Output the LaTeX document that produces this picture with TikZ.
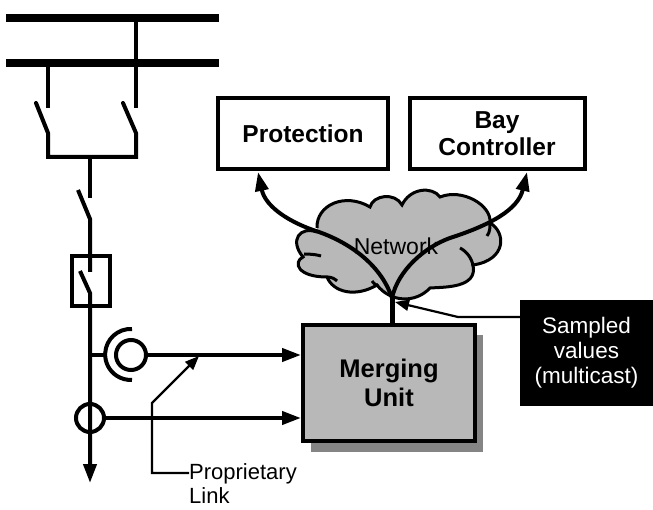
\documentclass[tikz,border=0pt]{standalone}
\usepackage{fontspec}
\setmainfont{Liberation Sans}
\usetikzlibrary{arrows.meta,calc}

\begin{document}
\begin{tikzpicture}[
  x=1pt,y=-1pt,
  line cap=butt,
  busbar/.style={line width=8pt},
  wire/.style={line width=4pt},
  link/.style={line width=4pt,-{Triangle[length=19pt,width=13pt]}},
  callout/.style={line width=2.2pt,-{Triangle[length=14pt,width=11pt]}},
  ied/.style={draw,line width=4pt,fill=white,align=center,font=\bfseries\fontsize{24.5}{27}\selectfont,inner sep=0pt},
  sensor/.style={circle,draw,line width=4pt,fill=none,inner sep=0pt}
]
\useasboundingbox (0,0) rectangle (653,510);
\fill[white] (0,0) rectangle (653,510);
% bus bars
\coordinate (busaL) at (6,18);
\coordinate (busaR) at (219,18);
\coordinate (busbL) at (6,63);
\coordinate (busbR) at (219,63);
\draw[busbar] (busaL) -- (busaR);
\draw[busbar] (busbL) -- (busbR);
% feeder with its switches
\draw[wire] (136,18) -- (136,108);
\draw[wire] (48,63) -- (48,108);
\draw[wire,line cap=round,line join=miter] (36,103) -- (48,133) -- (48,157) -- (136,157) -- (136,133) -- (123,103);
\draw[wire] (90,157) -- (90,198);
\draw[wire] (78,190) -- (90,219) -- (90,272);
\node[draw,line width=4pt,minimum width=38pt,minimum height=50pt,inner sep=0pt] (breaker) at (91,281) {};
\draw[wire] (80,271) -- (90,293) -- (90,470);
\node[sensor,minimum size=30pt] (vt) at (131,355) {};
\node[sensor,minimum size=28pt] (ct) at (90,418) {};
\coordinate (feederend) at (90,483);
\draw[link] (90,440) -- (feederend);
\coordinate (tap) at (90,355);
\coordinate (arcend) at (107,355);
\draw[wire] (tap) -- (arcend);
\draw[wire] (132,329) arc[start angle=-87,end angle=-273,radius=25.5];
% merging unit
\fill[black!48] (311,335) rectangle (483,452);
\node[ied,fill=black!28,minimum width=172pt,minimum height=116pt,font=\bfseries\fontsize{25.5}{29}\selectfont] (mu) at (389,383) {Merging\\Unit};
\draw[link] (vt.east) -- (mu.west |- vt.east);
\draw[link] (ct.east) -- (mu.west |- ct.east);
% cloud
\path[fill=black!28,draw=black,line width=3pt]
  (317,228) .. controls (316,205) and (345,192) .. (370,207)
  .. controls (373,195) and (395,192) .. (402,205)
  .. controls (410,188) and (432,186) .. (440,197)
  .. controls (462,188) and (492,205) .. (490,223)
  .. controls (506,232) and (507,260) .. (473,265)
  .. controls (478,288) and (445,287) .. (430,288)
  .. controls (415,304) and (390,302) .. (377,285)
  .. controls (355,298) and (333,292) .. (327,277)
  .. controls (297,277) and (293,262) .. (303,257)
  .. controls (289,240) and (300,226) .. (317,232);
\draw[line width=3pt] (304,254) .. controls (312,254) and (318,255) .. (321,256);
\draw[line width=3pt] (327,277) .. controls (332,277) and (335,279) .. (337,281);
\draw[line width=3pt] (372,281) .. controls (374,284) and (376,285) .. (378,286);
\draw[line width=3pt] (460,248) .. controls (466,251) and (472,258) .. (473,266);
\draw[line width=3pt] (487,236) .. controls (490,232) and (490,228) .. (490,223);
\node[font=\fontsize{23}{26}\selectfont] (network) at (396,246) {Network};
% relays
\node[ied,minimum width=170pt,minimum height=71pt] (prot) at (303,133.5) {Protection};
\node[ied,minimum width=175pt,minimum height=71pt] (bay) at (497,133.5) {Bay\\Controller};
% sampled values
\coordinate (fork) at (392,298);
\draw[line width=5pt] (mu.north -| fork) -- (fork);
\draw[link] (fork) .. controls (380,262) and (345,240) .. (313,230)
  .. controls (285,220) and (265,205) .. (258,172);
\draw[link] (fork) .. controls (398,270) and (425,247) .. (450,238)
  .. controls (490,225) and (518,210) .. (527,172);
\node[fill=black,text=white,align=center,minimum width=133pt,minimum height=106pt,inner sep=0pt,font=\fontsize{22.5}{25}\selectfont] (sv) at (586.5,353) {Sampled\\values\\(multicast)};
\coordinate (svbend) at (458,317);
\coordinate (svtip) at (395,302);
\draw[callout] (sv.west |- svbend) -- (svbend) -- (svtip);
% link label
\node[anchor=north west,align=left,inner sep=0pt,font=\fontsize{22}{24}\selectfont] (proplabel) at (189,463) {Proprietary\\Link};
\coordinate (linka) at (152,473);
\coordinate (linkb) at (152,403);
\coordinate (linktip) at (199,356);
\draw[callout] (proplabel.west |- linka) -- (linka) -- (linkb) -- (linktip);
\end{tikzpicture}
\end{document}
